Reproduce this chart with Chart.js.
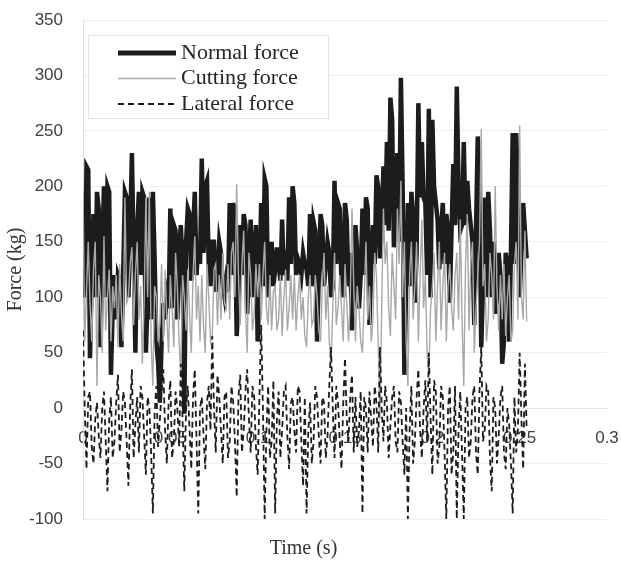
<!DOCTYPE html>
<html>
<head>
    <title>Force vs Time</title>
    <script src="https://cdn.jsdelivr.net/npm/chart.js"></script>
    <style>
        html, body {
            margin: 0;
            padding: 0;
            background: #ffffff;
        }

        #wrap {
            width: 621px;
            height: 562px;
        }
    </style>
</head>
<body>
    <div id="wrap"><canvas id="forceChart"></canvas></div>

    <script>
        // sampling interval of the recorded signals (s)
        const sampleStep = 0.001;

        const seriesNames = ['Normal force', 'Cutting force', 'Lateral force'];

        const normalForce = [
            120, 100, 218, 215, 45, 120, 175, 100, 195, 180,
            55, 140, 200, 100, 200, 195, 30, 90, 120, 80,
            120, 115, 55, 120, 195, 190, 100, 160, 230, 140,
            50, 160, 195, 120, 195, 190, 50, 100, 190, 80,
            195, 135, 60, 40, 5, 60, 95, 80, 100, 90,
            180, 90, 165, 160, 80, 140, 165, 130, -5, 150,
            180, 175, 115, 160, 195, 120, 150, 130, 225, 140,
            200, 205, 125, 110, 150, 150, 105, 115, 150, 140,
            110, 100, 115, 105, 185, 120, 185, 175, 65, 100,
            165, 120, 175, 165, 85, 130, 170, 100, 130, 165,
            60, 110, 185, 110, 207, 200, 100, 125, 150, 110,
            125, 145, 130, 115, 170, 120, 130, 115, 190, 130,
            200, 185, 120, 135, 130, 120, 140, 130, 125, 110,
            175, 110, 168, 160, 60, 120, 175, 165, 110, 130,
            150, 140, 100, 110, 205, 130, 185, 180, 110, 100,
            185, 170, 110, 140, 70, 100, 165, 140, 90, 120,
            180, 120, 190, 180, 75, 130, 165, 130, 210, 200,
            135, 160, 218, 165, 240, 160, 280, 260, 145, 195,
            230, 150, 298, 200, 30, 110, 185, 110, 195, 175,
            95, 140, 275, 190, 240, 190, 185, 120, 270, 100,
            260, 200, 185, 170, 125, 160, 185, 130, 175, 160,
            95, 160, 220, 165, 290, 200, 160, 165, 240, 165,
            205, 180, 165, 150, 75, 160, 245, 200, 55, 110,
            190, 100, 195, 160, 100, 150, 85, 100, 140, 120,
            40, 60, 140, 130, 60, 140, 248, 130, 248, 200,
            100, 140, 185, 160, 135
        ];

        const cuttingForce = [
            195, 60, 105, 150, 95, 60, 125, 150, 20, 120,
            100, 50, 155, 70, 100, 125, 60, 110, 90, 120,
            55, 130, 85, 60, 190, 95, 100, 130, 145, 75,
            120, 150, 80, 110, 40, 95, 190, 100, 195, 60,
            20, 110, 100, 60, 75, 130, 60, 125, 80, 50,
            120, 90, 55, 140, 110, 60, 30, 120, 100, 70,
            125, 85, 50, 120, 155, 80, 110, 60, 120, 75,
            50, 130, 100, 60, 65, 125, 130, 75, 120, 80,
            140, 95, 90, 130, 80, 140, 150, 100, 202, 120,
            75, 130, 160, 90, 50, 140, 120, 70, 85, 130,
            100, 130, 80, 120, 150, 90, 75, 120, 70, 105,
            110, 70, 80, 120, 65, 100, 125, 70, 90, 120,
            80, 120, 70, 100, 120, 80, 100, 65, 55, 100,
            120, 75, 80, 120, 100, 70, 60, 110, 140, 80,
            110, 60, 40, 90, 140, 75, 90, 120, 90, 60,
            130, 95, 60, 100, 180, 110, 60, 110, 90, 60,
            50, 100, 150, 80, 110, 60, 80, 140, 120, 60,
            -10, 90, 180, 130, 150, 90, 65, 140, 110, 80,
            180, 130, 205, 100, 150, 60, 20, 120, 150, 80,
            110, 150, 60, 120, 170, 90, 120, 50, 30, 90,
            110, 140, 60, 110, 150, 70, 110, 140, 60, 110,
            130, 90, 70, 120, 140, 80, 170, 80, 20, 130,
            175, 70, 130, 150, 50, 90, 120, 150, 252, 110,
            130, 60, 80, 140, 120, 80, 200, 110, 70, 120,
            80, 130, 65, 100, 120, 60, 70, 130, 150, 80,
            255, 100, 80, 160, 78
        ];

        const lateralForce = [
            70, 0, -55, 10, 15, -35, -50, -10, 5, -25,
            -45, 0, 15, -30, -75, -10, 10, -45, -30, 5,
            30, -40, -20, 15, 5, -30, -70, 0, 35, -45,
            -15, 10, -40, 20, 10, -25, -60, 10, 0, -40,
            -95, -5, 20, -35, -10, 15, 35, -20, -50, 5,
            25, -45, -30, 15, 0, -35, 40, -10, -75, 0,
            20, -20, -55, 10, 35, -30, -95, 0, 10, -25,
            -55, 5, 20, -20, 65, 0, -40, 30, 10, -20,
            -50, 10, 15, -45, -30, 20, 5, -30, -80, 10,
            30, -40, -20, 15, 35, -10, -40, 20, 10, -35,
            -60, 10, 75, 0, -100, -20, 20, -45, -30, 25,
            -95, -10, 15, -45, -20, 15, 20, -25, -55, 5,
            10, -20, -40, 20, 15, -30, -70, 10, -95, -20,
            5, -50, -30, 20, 10, -25, -50, 10, 5, -45,
            -25, 20, 55, 0, -45, 20, 5, -30, -55, 5,
            45, -10, -30, 10, 30, -40, 10, -35, -20, 15,
            -95, 10, 0, -40, 15, -10, -35, 20, 5, -40,
            55, 0, -30, 20, 5, -45, -15, 10, 20, -30,
            -40, 15, 5, -30, -60, 0, -100, -20, 20, -50,
            -30, 10, 35, -20, -45, 0, 25, -30, 50, -10,
            -60, 25, 15, -50, -35, 20, 10, -40, -100, 0,
            20, -60, -40, 20, -100, -20, 15, -40, -100, 0,
            10, -45, -30, 10, 20, -40, -60, 15, 55, -30,
            -20, 20, 15, -45, -75, 10, 0, -50, -25, 10,
            20, -40, -55, 0, -15, -50, -95, 10, -40, -20,
            50, -10, -55, 40, -20
        ];

        const xTicks = [0, 0.05, 0.1, 0.15, 0.2, 0.25, 0.3];
        const yTicks = [-100, -50, 0, 50, 100, 150, 200, 250, 300, 350];

        function toPoints(values) {
            return values.map((v, i) => ({ x: i * sampleStep, y: v }));
        }

        // legend drawn inside the plot, with a faint frame
        const boxLegend = {
            id: 'boxLegend',
            afterDatasetsDraw(chart) {
                const ctx = chart.ctx;
                const area = chart.chartArea;
                const left = area.left + 5;
                const top = area.top + 15;
                ctx.save();
                ctx.fillStyle = '#ffffff';
                ctx.fillRect(left, top, 240, 83);
                ctx.strokeStyle = '#e3e3e3';
                ctx.lineWidth = 1;
                ctx.strokeRect(left + 0.5, top + 0.5, 240, 83);

                chart.data.datasets.forEach((ds, i) => {
                    const y = top + 18 + i * 25.5;
                    ctx.beginPath();
                    ctx.setLineDash(ds.borderDash || []);
                    ctx.strokeStyle = ds.borderColor;
                    ctx.lineWidth = ds.legendWidth;
                    ctx.moveTo(left + 30, y);
                    ctx.lineTo(left + 88, y);
                    ctx.stroke();
                    ctx.setLineDash([]);
                    ctx.fillStyle = '#262626';
                    ctx.font = '22px "Liberation Serif", "Times New Roman", serif';
                    ctx.textBaseline = 'middle';
                    ctx.fillText(ds.label, left + 93, y);
                });
                ctx.restore();
            }
        };

        const ctx = document.getElementById('forceChart').getContext('2d');

        new Chart(ctx, {
            type: 'line',
            data: {
                datasets: [
                    {
                        label: seriesNames[0],
                        data: toPoints(normalForce),
                        borderColor: '#1c1c1c',
                        borderWidth: 4.5,
                        legendWidth: 5,
                        order: 3
                    },
                    {
                        label: seriesNames[1],
                        data: toPoints(cuttingForce),
                        borderColor: '#a8a8a8',
                        borderWidth: 1.4,
                        legendWidth: 1.5,
                        order: 2
                    },
                    {
                        label: seriesNames[2],
                        data: toPoints(lateralForce),
                        borderColor: '#1c1c1c',
                        borderWidth: 1.8,
                        borderDash: [6, 4],
                        legendWidth: 1.8,
                        order: 1
                    }
                ]
            },
            options: {
                responsive: true,
                maintainAspectRatio: false,
                animation: false,
                elements: {
                    point: { radius: 0 },
                    line: { tension: 0, fill: false }
                },
                layout: {
                    padding: { top: 20, right: 14, bottom: 0, left: 0 }
                },
                plugins: {
                    legend: { display: false },
                    tooltip: { enabled: false },
                    title: {
                        display: true,
                        position: 'bottom',
                        text: 'Time (s)',
                        color: '#333333',
                        font: { family: '"Liberation Serif", "Times New Roman", serif', size: 20, weight: 'normal' },
                        padding: { top: 18, bottom: 1 }
                    }
                },
                scales: {
                    x: {
                        type: 'linear',
                        min: 0,
                        max: 0.3,
                        position: { y: 0 },
                        afterBuildTicks: (scale) => {
                            scale.ticks = xTicks.map(v => ({ value: v }));
                        },
                        grid: { display: false, drawTicks: true, tickLength: 20 },
                        border: { display: true, color: '#e6e6e6' },
                        ticks: {
                            padding: 0,
                            color: '#404040',
                            font: { family: '"Liberation Sans", Arial, sans-serif', size: 17 },
                            callback: v => String(+v.toFixed(2))
                        }
                    },
                    y: {
                        min: -100,
                        max: 350,
                        afterBuildTicks: (scale) => {
                            scale.ticks = yTicks.map(v => ({ value: v }));
                        },
                        afterFit: (scale) => { scale.width = 83; },
                        grid: { color: '#eeeeee', drawTicks: true, tickLength: 20, tickColor: 'rgba(0,0,0,0)' },
                        border: { color: '#dddddd' },
                        ticks: {
                            padding: 0,
                            color: '#404040',
                            font: { family: '"Liberation Sans", Arial, sans-serif', size: 17 }
                        },
                        title: {
                            display: true,
                            text: 'Force (kg)',
                            color: '#333333',
                            font: { family: '"Liberation Serif", "Times New Roman", serif', size: 20 },
                            padding: { top: 4, bottom: 0 }
                        }
                    }
                }
            },
            plugins: [boxLegend]
        });
    </script>
</body>
</html>
